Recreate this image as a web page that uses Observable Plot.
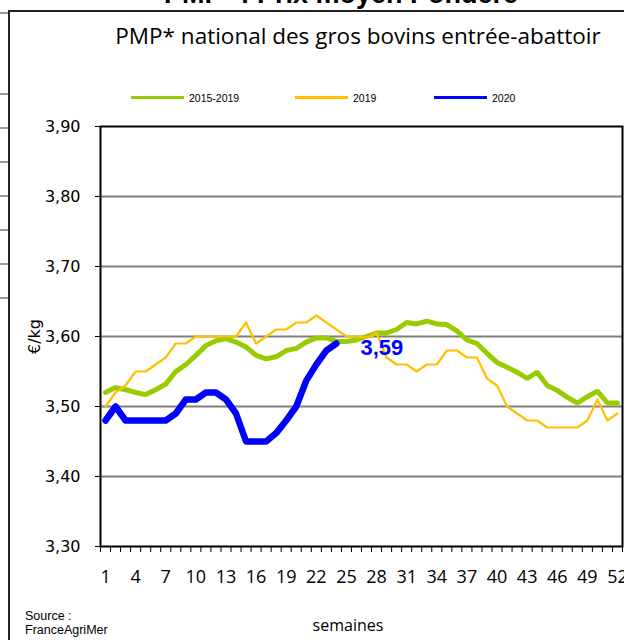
<!DOCTYPE html>
<html>
<head>
<meta charset="utf-8">
<script src="https://cdn.jsdelivr.net/npm/d3@7"></script>
<script src="https://cdn.jsdelivr.net/npm/@observablehq/plot@0.6"></script>
<style>
  html, body { margin: 0; padding: 0; background: #fff; }
  #wrap { position: relative; width: 624px; height: 640px; overflow: hidden; background: #fff; }
  #wrap svg { position: absolute; left: 0; top: 0; }
  .abs { position: absolute; white-space: nowrap; }
  .gtick { position: absolute; left: 0; width: 8px; height: 2px; background: #9a9a9a; }
</style>
</head>
<body>
<div id="wrap"></div>
<script>
// ---- data ----
const weeks = [1,2,3,4,5,6,7,8,9,10,11,12,13,14,15,16,17,18,19,20,21,22,23,24,25,26,
  27,28,29,30,31,32,33,34,35,36,37,38,39,40,41,42,43,44,45,46,47,48,49,50,51,52];
const moy2015_2019 = [3.520,3.527,3.524,3.520,3.517,3.524,3.532,3.550,3.560,3.573,3.587,3.594,3.597,
  3.592,3.585,3.573,3.568,3.571,3.580,3.583,3.592,3.598,3.598,3.593,3.593,3.595,
  3.600,3.605,3.605,3.610,3.620,3.618,3.622,3.618,3.617,3.608,3.595,3.590,3.576,
  3.563,3.556,3.549,3.540,3.549,3.530,3.523,3.513,3.505,3.514,3.522,3.505,3.505];
const y2019 = [3.50,3.52,3.53,3.55,3.55,3.56,3.57,3.59,3.59,3.60,3.60,3.60,3.60,
  3.60,3.62,3.59,3.60,3.61,3.61,3.62,3.62,3.63,3.62,3.61,3.60,3.60,
  3.598,3.605,3.57,3.56,3.56,3.55,3.56,3.56,3.58,3.58,3.57,3.57,3.54,
  3.53,3.50,3.49,3.48,3.48,3.47,3.47,3.47,3.47,3.48,3.51,3.48,3.49];
const y2020 = [3.48,3.50,3.48,3.48,3.48,3.48,3.48,3.49,3.51,3.51,3.52,3.52,3.51,
  3.49,3.45,3.45,3.45,3.462,3.48,3.50,3.537,3.56,3.58,3.59];
const seriesNames = ["2015-2019", "2019", "2020"];
const seriesColors = ["#99CC00", "#FFC000", "#0000FF"];
const yTicks = [3.30,3.40,3.50,3.60,3.70,3.80,3.90];
const gridValues = [3.40,3.50,3.60,3.70,3.80];
const xLabelWeeks = [1,4,7,10,13,16,19,22,25,28,31,34,37,40,43,46,49,52];

const toRows = vals => vals.map((v, i) => ({week: weeks[i], value: v}));
const d1519 = toRows(moy2015_2019);
const d2019 = toRows(y2019);
const d2020 = toRows(y2020);
const last2020 = [d2020[d2020.length - 1]];
const boundaries = weeks.map(w => w - 0.5).concat([weeks[weeks.length - 1] + 0.5]);
const fmt = v => v.toFixed(2).replace(".", ",");
const yMin = 3.3, yMax = 3.9;
const tickLen = (yMax - yMin) / 420 * 6; // minor tick length below the axis (in data units)

const chart = Plot.plot({
  width: 624,
  height: 640,
  marginLeft: 100,
  marginRight: 2,
  marginTop: 126,
  marginBottom: 94,
  style: {background: "transparent", fontFamily: "DejaVu Sans", color: "#000"},
  x: {domain: [0.5, 52.5]},
  y: {domain: [yMin, yMax]},
  marks: [
    Plot.ruleY(gridValues, {stroke: "#7f7f7f", strokeWidth: 2}),
    Plot.ruleX(boundaries, {x: d => d, y1: yMin, y2: yMin - tickLen, stroke: "#000", strokeWidth: 1}),
    Plot.line(d1519, {x: "week", y: "value", stroke: seriesColors[0], strokeWidth: 5, strokeLinejoin: "miter"}),
    Plot.line(d2019, {x: "week", y: "value", stroke: seriesColors[1], strokeWidth: 2.2}),
    Plot.line(d2020, {x: "week", y: "value", stroke: seriesColors[2], strokeWidth: 6.5, strokeLinecap: "round", strokeLinejoin: "round"}),
    Plot.text(last2020, {x: "week", y: "value", text: d => fmt(d.value), dx: 24, dy: 4,
      textAnchor: "start", fill: seriesColors[2], fontWeight: "bold", fontSize: 22, fontFamily: "Liberation Sans"}),
    Plot.frame({stroke: "#000", strokeWidth: 2}),
    Plot.axisY({ticks: yTicks, tickFormat: fmt, tickSize: 5, tickPadding: 15, fontSize: 16,
      fontFamily: "DejaVu Sans", label: "€/kg", labelAnchor: "center", labelOffset: 72, labelArrow: "none"}),
    Plot.axisX({ticks: xLabelWeeks, tickSize: 0, tickPadding: 24, fontSize: 18,
      fontFamily: "Open Sans", tickFormat: d => String(d), label: null})
  ]
});

const wrap = document.getElementById("wrap");
wrap.appendChild(chart);

function add(html, style, cls) {
  const el = document.createElement("div");
  el.className = cls || "abs";
  el.innerHTML = html;
  Object.assign(el.style, style);
  wrap.appendChild(el);
  return el;
}
// outer frame of the slide
add("", {left: "8px", top: "10px", width: "700px", height: "700px",
  borderLeft: "2px solid #222", borderTop: "2px solid #222", boxSizing: "border-box"});
[13, 94, 128, 162, 196, 230, 264, 298].forEach(t => add("", {top: (t - 1) + "px"}, "gtick"));
// cropped heading
add("PMP* : Prix moyen Pondéré", {left: "0", width: "682px", textAlign: "center", top: "-19px",
  fontFamily: "Liberation Sans", fontWeight: "bold", fontSize: "27px", lineHeight: "27px"});
// subtitle
add("PMP* national des gros bovins entrée-abattoir", {left: "100px", width: "516px", textAlign: "center",
  top: "21px", fontFamily: "Open Sans", fontSize: "22.5px", lineHeight: "30px"});
// legend
const legendX = [131, 295, 434];
seriesNames.forEach((name, i) => {
  add("", {left: legendX[i] + "px", top: "96px", width: "53px", height: "3px", background: seriesColors[i]});
  add(name, {left: (legendX[i] + 58) + "px", top: "91px", fontFamily: "Liberation Sans Narrow, Liberation Sans",
    fontSize: "10.5px", lineHeight: "14px"});
});
// x title & source
add("semaines", {left: "300px", width: "96px", textAlign: "center", top: "614px",
  fontFamily: "Open Sans", fontSize: "16px", lineHeight: "22px"});
add("Source :<br>FranceAgriMer", {left: "25px", top: "609px", fontFamily: "Liberation Sans",
  fontSize: "12.5px", lineHeight: "14px"});
</script>
</body>
</html>
